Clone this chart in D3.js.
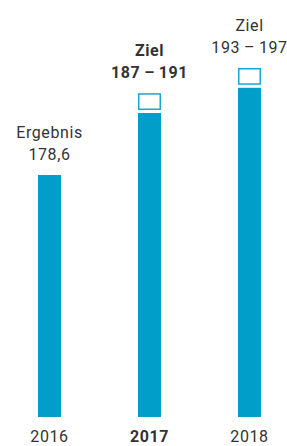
<!DOCTYPE html>
<meta charset="utf-8">
<head>
  <style>
    html, body { margin: 0; padding: 0; background: #fff; }
    text { font-family: Roboto, 'Noto Sans', sans-serif; fill: #333; letter-spacing: 0.6px; }
  </style>
  <script src="https://d3js.org/d3.v7.min.js"></script>
</head>
<body>
  <div id="chart"></div>
  <script>
    // Data
    const years = ["2016", "2017", "2018"];
    const baseValues = [178.6, 187, 193];      // solid bar value
    const targetHigh = [null, 191, 197];        // upper end of target range
    const topLabels = ["Ergebnis", "Ziel", "Ziel"];
    const valueLabels = ["178,6", "187\u2009\u2013\u2009191", "193\u2009\u2013\u2009197"];
    const highlightYear = "2017";

    const width = 287, height = 446;
    const blue = "#009ec9";

    const svg = d3.select("#chart")
      .append("svg")
      .attr("width", width)
      .attr("height", height);

    const x = d3.scaleBand()
      .domain(years)
      .range([0, 300])
      .paddingInner(0.77)
      .paddingOuter(0.385);

    // chart is not drawn to one scale: the result bar is shortened
    const y = d3.scaleLinear()
      .domain([0, 178.6, 187, 197])
      .range([417, 175, 110, 68]);

    const gap = 3;
    const data = years.map((yr, i) => ({
      year: yr, base: baseValues[i], high: targetHigh[i],
      top: topLabels[i], value: valueLabels[i]
    }));

    // solid bars
    svg.selectAll("rect.bar")
      .data(data)
      .join("rect")
      .attr("class", "bar")
      .attr("x", d => x(d.year) - 0.5)
      .attr("width", x.bandwidth())
      .attr("y", d => d.high ? y(d.base) + gap : y(d.base))
      .attr("height", d => y(0) - (d.high ? y(d.base) + gap : y(d.base)))
      .attr("fill", blue);

    // target range boxes
    svg.selectAll("rect.target")
      .data(data.filter(d => d.high))
      .join("rect")
      .attr("class", "target")
      .attr("x", d => x(d.year) + 0.25)
      .attr("width", x.bandwidth() - 1.5)
      .attr("y", d => y(d.high) + 0.75)
      .attr("height", d => y(d.base) - y(d.high) - 1.5)
      .attr("fill", "none")
      .attr("stroke", "#1aa6d2")
      .attr("stroke-width", 1.5);

    const topOf = d => d.high ? y(d.high) : y(d.base);

    const labels = svg.selectAll("g.lbl")
      .data(data)
      .join("g")
      .attr("class", "lbl")
      .attr("transform", d => `translate(${x(d.year) + x.bandwidth() / 2 - 0.5},${topOf(d) - 15})`)
      .style("font-weight", d => d.year === highlightYear ? "bold" : "normal");

    labels.append("text")
      .attr("text-anchor", "middle")
      .attr("y", -22)
      .style("font-size", "16px")
      .text(d => d.top);

    labels.append("text")
      .attr("text-anchor", "middle")
      .style("font-size", "16px")
      .text(d => d.value);

    // x axis labels
    svg.append("g")
      .attr("transform", "translate(-0.5,442)")
      .call(d3.axisBottom(x).tickSize(0).tickPadding(0))
      .call(g => g.select(".domain").remove())
      .selectAll("text")
      .attr("dy", 0)
      .style("font-size", "16px")
      .style("font-family", "Roboto, 'Noto Sans', sans-serif")
      .style("font-weight", d => d === highlightYear ? "bold" : "normal")
      .attr("fill", "#333");
  </script>
</body>
